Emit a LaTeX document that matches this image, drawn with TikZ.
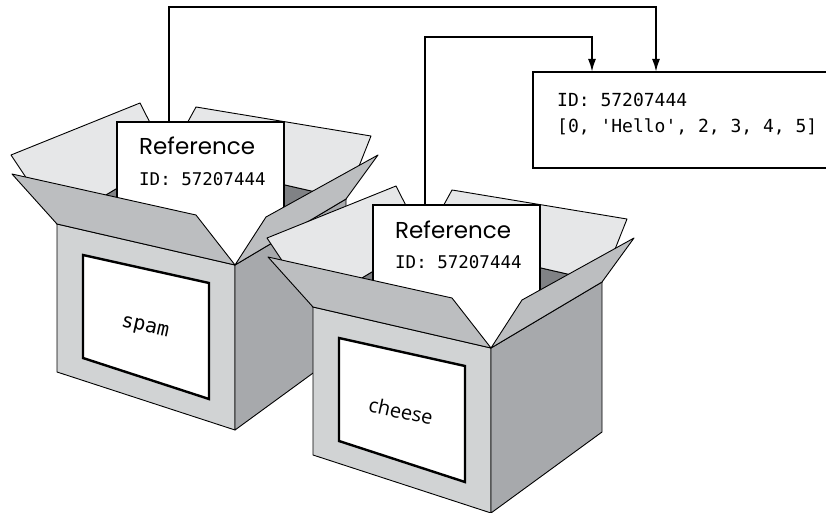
\documentclass[tikz,border=0pt]{standalone}
\usepackage{fontspec}
\setmonofont{DejaVu Sans Mono}
\newfontfamily\cardfont{Poppins}
\newfontfamily\labelfont{Open Sans}
\usetikzlibrary{arrows.meta,positioning}
\definecolor{flaplight}{HTML}{E6E7E8}
\definecolor{flapmid}{HTML}{BCBEC0}
\definecolor{facefront}{HTML}{D1D3D4}
\definecolor{faceside}{HTML}{A7A9AC}
\definecolor{inside}{HTML}{808285}
\tikzset{
  boxpart/.style={draw=black, line width=0.9pt, line join=round},
  labelrect/.style={draw=black, fill=white, line width=2.4pt},
  card/.style={draw, fill=white, line width=2.8pt, outer sep=0pt, inner sep=0pt,
    anchor=north west, minimum width=167pt, minimum height=150pt},
  valbox/.style={draw, fill=white, line width=2.8pt, outer sep=0pt, inner sep=0pt,
    anchor=north west, minimum width=340pt, minimum height=96pt},
  cardtext/.style={inner sep=0pt, anchor=base west},
  link/.style={line width=2pt, -{Latex[length=13pt,width=8pt]}}
}

\begin{document}
\begin{tikzpicture}[x=1pt,y=-1pt]
\useasboundingbox (0,0) rectangle (826,513);
% the two boxes
\foreach \dx/\dy/\nm/\lfont in {0/0/spam/\ttfamily,256/83/cheese/\labelfont}{
  \begin{scope}[shift={(\dx,\dy)}]
    % inside and back flaps
    \filldraw[boxpart, fill=inside] (57,224) -- (235,265) -- (346,199) -- (168,158) -- cycle;
    \filldraw[boxpart, fill=flaplight] (57,224) -- (11,155) -- (140,103) -- (168,158) -- cycle;
    \filldraw[boxpart, fill=flaplight] (168,158) -- (196,107) -- (371,136) -- (346,199) -- cycle;
    % reference card
    \node[card] (card\nm) at (117,122) {};
    \node[cardtext] (ref\nm) at (139,155) {\cardfont\fontsize{23}{27}\selectfont Reference};
    \node[cardtext] (id\nm) at (139,185) {\ttfamily\fontsize{17.5}{21}\selectfont ID: 57207444};
    % faces and front flaps
    \filldraw[boxpart, fill=facefront] (57,224) -- (235,265) -- (235,430) -- (57,372) -- cycle;
    \filldraw[boxpart, fill=faceside] (235,265) -- (346,199) -- (346,349) -- (235,430) -- cycle;
    \filldraw[boxpart, fill=flapmid] (57,224) -- (12,174) -- (196,215) -- (235,265) -- cycle;
    \filldraw[boxpart, fill=flapmid] (235,265) -- (266,217) -- (378,155) -- (346,199) -- cycle;
    % label on the front
    \filldraw[labelrect] (83,255) -- (209,283) -- (209,399) -- (83,358) -- cycle;
    \node[rotate=-12.5] (lbl\nm) at (145,328) {\lfont\fontsize{20}{24}\selectfont \nm};
  \end{scope}
}
% the list value
\node[valbox] (value) at (533,72) {};
\node[cardtext] (valid) at (557,107) {\ttfamily\fontsize{18}{22}\selectfont ID: 57207444};
\node[cardtext] (vallist) at (557,133) {\ttfamily\fontsize{18}{22}\selectfont [0, 'Hello', 2, 3, 4, 5]};
% references
\draw[link] ([xshift=52pt]cardspam.north west) -- ++(0,-115) -| ([xshift=123pt]value.north west);
\draw[link] ([xshift=52pt]cardcheese.north west) -- ++(0,-168) -| ([xshift=59pt]value.north west);
\end{tikzpicture}
\end{document}
